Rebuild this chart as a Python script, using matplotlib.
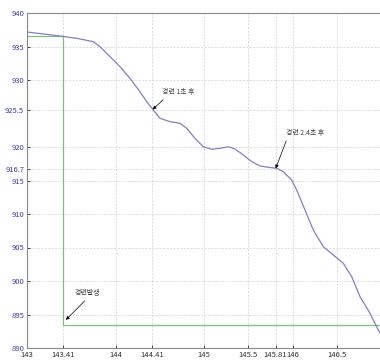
import matplotlib.pyplot as plt

plt.rcParams['font.family'] = ['Noto Sans CJK KR', 'DejaVu Sans']

# frequency response after the fault
t_freq = [143.0, 143.373, 143.562, 143.749, 143.825, 143.938, 144.051, 144.164, 144.277,
          144.353, 144.427, 144.503, 144.616, 144.729, 144.805, 144.898, 144.992, 145.087,
          145.181, 145.275, 145.35, 145.444, 145.539, 145.633, 145.727, 145.821, 145.896,
          145.991, 146.047, 146.141, 146.235, 146.348, 146.461, 146.574, 146.669, 146.763,
          146.876, 146.969, 147.0]
freq = [937.16, 936.57, 936.22, 935.72, 934.97, 933.48, 931.99, 930.25, 928.25,
        926.76, 925.52, 924.28, 923.78, 923.54, 922.79, 921.3, 920.04, 919.66,
        919.81, 920.04, 919.7, 918.81, 917.81, 917.16, 916.97, 916.82, 916.31,
        915.07, 913.58, 910.6, 907.61, 905.12, 903.88, 902.64, 900.64, 897.66,
        895.18, 892.69, 892.0]

# step of the generator output
t_step = [143.0, 143.41, 143.41, 147.0]
step = [936.57, 936.57, 893.5, 893.5]

xticks = [143, 143.41, 144, 144.41, 145, 145.5, 145.81, 146, 146.5, 147]
xlabels = ['143', '143.41', '144', '144.41', '145', '145.5', '145.81', '146', '146.5', '1']
yticks = [890, 895, 900, 905, 910, 915, 916.7, 920, 925.5, 930, 935, 940]
ylabels = ['890', '895', '900', '905', '910', '915', '916.7', '920', '925.5', '930', '935', '940']

fig = plt.figure(figsize=(3.8, 3.6), dpi=100)
ax = fig.add_axes([27/380, 12/360, 354/380, 335/360])

ax.plot(t_step, step, color='#7cc07c', lw=0.9)
ax.plot(t_freq, freq, color='#7f7fc8', lw=0.9, solid_joinstyle='round')

ax.set_xlim(143, 147)
ax.set_ylim(890, 940)
ax.set_xticks(xticks)
ax.set_xticklabels(xlabels, fontsize=5.5, color='#333333')
ax.set_yticks(yticks)
ax.set_yticklabels(ylabels, fontsize=5.5, color='#3a3ab0')
ax.tick_params(direction='in', length=2, pad=2, width=0.5)
ax.grid(True, ls='--', lw=0.5, color='#cfcfcf', dashes=(3, 2))
for s in ax.spines.values():
    s.set_color('#888888')
    s.set_linewidth(0.8)

def arrow(rp):
    return dict(arrowstyle='-|>', color='black', lw=0.5, mutation_scale=5,
                relpos=rp, shrinkA=1, shrinkB=0)

ax.annotate('경련 1초 후', xy=(144.42, 925.6), xytext=(144.71, 928.2),
            fontsize=5, color='#444444', ha='center', va='center', arrowprops=arrow((0.15, 0)))
ax.annotate('경련 2.4초 후', xy=(145.81, 916.8), xytext=(146.14, 922.1),
            fontsize=5, color='#444444', ha='center', va='center', arrowprops=arrow((0.05, 0)))
ax.annotate('경련발생', xy=(143.44, 894.2), xytext=(143.68, 898.2),
            fontsize=5, color='#444444', ha='center', va='center', arrowprops=arrow((0.55, 0)))

fig.savefig('out.png', dpi=100)
